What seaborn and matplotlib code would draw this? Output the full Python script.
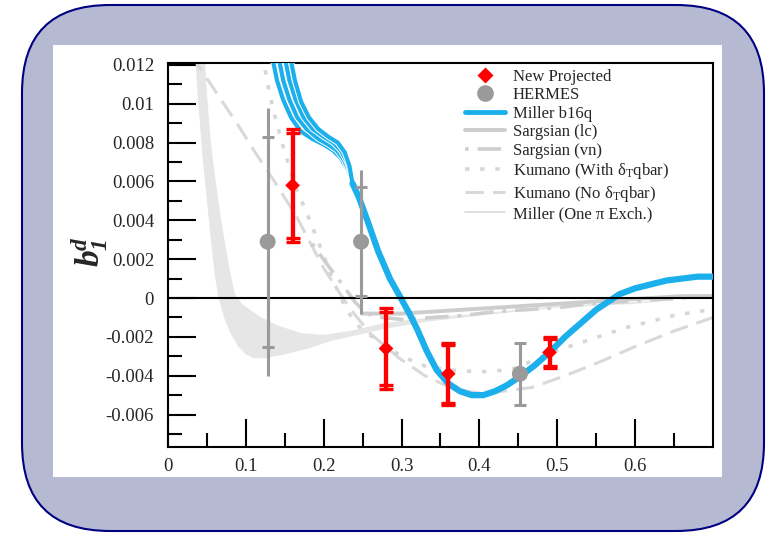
import numpy as np
import pandas as pd
import matplotlib
matplotlib.use("Agg")
import matplotlib.pyplot as plt
import matplotlib.patheffects as pe
import seaborn as sns
from matplotlib.patches import FancyBboxPatch, Rectangle
from matplotlib.transforms import IdentityTransform
from matplotlib.lines import Line2D
from matplotlib.ticker import FixedLocator, FixedFormatter

# ---------------- data ----------------
# projected measurement
red_x = [0.160, 0.280, 0.360, 0.490]
red_y = [0.0058, -0.0026, -0.0039, -0.0028]
red_err_tot = [0.0029, 0.0021, 0.0016, 0.0008]
red_err_stat = [0.0027, 0.0019, 0.0015, 0.0007]

# HERMES points
herm_x = [0.128, 0.248, 0.452]
herm_y = [0.0029, 0.0029, -0.0039]
herm_err_tot = [0.0069, 0.0037, 0.0016]
herm_err_stat = [0.0054, 0.0028, 0.0016]

# Miller b16q: four branches at small x that join into one curve
b16q_a_x = [0.134, 0.140, 0.148, 0.158, 0.170, 0.185, 0.200, 0.212, 0.222, 0.231, 0.237]
b16q_a_y = [0.0124, 0.0112, 0.0102, 0.0093, 0.0086, 0.0082, 0.0079, 0.0076, 0.0072, 0.0066, 0.0059]
b16q_b_x = [0.142, 0.148, 0.156, 0.166, 0.178, 0.193, 0.206, 0.217, 0.226, 0.233, 0.237]
b16q_b_y = [0.0124, 0.0112, 0.0102, 0.0093, 0.0087, 0.0082, 0.0079, 0.0076, 0.0071, 0.0065, 0.0059]
b16q_c_x = [0.150, 0.156, 0.164, 0.174, 0.186, 0.200, 0.212, 0.222, 0.230, 0.235, 0.237]
b16q_c_y = [0.0124, 0.0112, 0.0102, 0.0093, 0.0087, 0.0083, 0.0080, 0.0076, 0.0070, 0.0064, 0.0059]
b16q_d_x = [0.157, 0.163, 0.171, 0.181, 0.193, 0.206, 0.218, 0.227, 0.233, 0.237]
b16q_d_y = [0.0124, 0.0112, 0.0101, 0.0093, 0.0087, 0.0083, 0.0080, 0.0075, 0.0068, 0.0059]
b16q_tail_x = [0.237, 0.245, 0.256, 0.270, 0.285, 0.299, 0.310, 0.320, 0.332, 0.345,
               0.360, 0.375, 0.390, 0.405, 0.420, 0.435, 0.450, 0.470, 0.490, 0.510,
               0.530, 0.550, 0.565, 0.580, 0.600, 0.620, 0.640, 0.660, 0.680, 0.700]
b16q_tail_y = [0.0059, 0.0052, 0.0040, 0.0024, 0.0010, 0.0000, -0.0008, -0.0016, -0.0027, -0.0037,
               -0.0044, -0.0048, -0.0050, -0.0050, -0.0048, -0.0045, -0.0041, -0.0035, -0.0028, -0.0020,
               -0.0013, -0.0006, -0.0002, 0.0002, 0.0005, 0.0007, 0.0009, 0.0010, 0.0011, 0.0011]

# Sargsian
sarg_lc_x = [0.249, 0.270, 0.300, 0.340, 0.380, 0.420, 0.460, 0.500, 0.540, 0.580, 0.620, 0.660, 0.700]
sarg_lc_y = [-0.0008, -0.0008, -0.0008, -0.0007, -0.0006, -0.0005, -0.0004, -0.0003, -0.0002, -0.0001, 0.0000, 0.0001, 0.0001]
sarg_vn_x = [0.185, 0.205, 0.224, 0.240, 0.255, 0.275, 0.300, 0.340, 0.380, 0.420, 0.460, 0.500,
             0.540, 0.580, 0.620, 0.660, 0.700]
sarg_vn_y = [0.0028, 0.0017, 0.0007, -0.0002, -0.0008, -0.0010, -0.0011, -0.0010, -0.0009, -0.0007,
             -0.0006, -0.0005, -0.0003, -0.0002, -0.0001, 0.0000, 0.0001]

# Kumano
kum_with_x = [0.122, 0.127, 0.135, 0.150, 0.165, 0.178, 0.195, 0.212, 0.229, 0.246, 0.272, 0.300,
              0.330, 0.360, 0.400, 0.440, 0.470, 0.500, 0.530, 0.560, 0.590, 0.620, 0.650, 0.680, 0.700]
kum_with_y = [0.0125, 0.0112, 0.0097, 0.0075, 0.0056, 0.0044, 0.0027, 0.0009, -0.0006, -0.0015, -0.0023,
              -0.0030, -0.0035, -0.0037, -0.0038, -0.0037, -0.0032, -0.0027, -0.0023, -0.0019, -0.0015,
              -0.0012, -0.0009, -0.0007, -0.0006]
kum_no_x = [0.030, 0.060, 0.090, 0.112, 0.140, 0.165, 0.182, 0.199, 0.215, 0.233, 0.259, 0.297,
            0.330, 0.362, 0.385, 0.404, 0.430, 0.468, 0.510, 0.554, 0.600, 0.650, 0.700]
kum_no_y = [0.0125, 0.0107, 0.0089, 0.0075, 0.0058, 0.0042, 0.0029, 0.0016, 0.0006, -0.0005, -0.0018,
            -0.0031, -0.0040, -0.0046, -0.0048, -0.0049, -0.0048, -0.0046, -0.0040, -0.0033, -0.0025,
            -0.0017, -0.0010]

# Miller one-pion exchange band (upper and lower edges)
ope_hi_x = [0.047, 0.050, 0.054, 0.058, 0.064, 0.070, 0.078, 0.086, 0.095, 0.105, 0.120, 0.140,
            0.170, 0.200, 0.233, 0.276, 0.336, 0.400, 0.450, 0.500, 0.550, 0.600, 0.650, 0.700]
ope_hi_y = [0.0125, 0.0105, 0.0085, 0.0070, 0.0052, 0.0036, 0.0017, 0.0002, -0.0003, -0.0006,
            -0.0010, -0.0014, -0.0018, -0.0019, -0.0017, -0.0013, -0.0010, -0.0008, -0.0006,
            -0.0004, -0.0003, -0.0002, -0.0001, 0.0000]
ope_lo_x = [0.035, 0.038, 0.041, 0.044, 0.050, 0.055, 0.060, 0.065, 0.072, 0.080, 0.090, 0.100,
            0.110, 0.125, 0.150, 0.180, 0.210, 0.233, 0.276, 0.336, 0.400, 0.450, 0.500, 0.550,
            0.600, 0.650, 0.700]
ope_lo_y = [0.0125, 0.0105, 0.0090, 0.0074, 0.0050, 0.0030, 0.0012, 0.0000, -0.0010, -0.0018,
            -0.0025, -0.0029, -0.0031, -0.0031, -0.0029, -0.0026, -0.0022, -0.0020, -0.0016,
            -0.0012, -0.0009, -0.0007, -0.0005, -0.0004, -0.0003, -0.0001, 0.0000]

# axis ticks
x_major = [0.0, 0.1, 0.2, 0.3, 0.4, 0.5, 0.6]
x_labels = ["0", "0.1", "0.2", "0.3", "0.4", "0.5", "0.6"]
x_minor = [0.05, 0.15, 0.25, 0.35, 0.45, 0.55, 0.65]
y_major = [-0.006, -0.004, -0.002, 0.0, 0.002, 0.004, 0.006, 0.008, 0.010, 0.012]
y_labels = ["-0.006", "-0.004", "-0.002", "0", "0.002", "0.004", "0.006", "0.008", "0.01", "0.012"]
y_minor = [-0.007, -0.005, -0.003, -0.001, 0.001, 0.003, 0.005, 0.007, 0.009, 0.011]

legend_labels = ["New Projected", "HERMES", "Miller b16q", "Sargsian (lc)", "Sargsian (vn)",
                 r"Kumano (With δ$_\mathrm{T}$qbar)", r"Kumano (No δ$_\mathrm{T}$qbar)",
                 "Miller (One π Exch.)"]

# ---------------- style ----------------
sns.set_theme(style="white")
plt.rcParams["font.family"] = ["Liberation Serif", "DejaVu Serif"]
plt.rcParams["mathtext.fontset"] = "custom"
plt.rcParams["mathtext.rm"] = "Liberation Serif"
plt.rcParams["mathtext.it"] = "Liberation Serif:italic"
plt.rcParams["mathtext.bf"] = "Liberation Serif:bold"
plt.rcParams["mathtext.bfit"] = "Liberation Serif:italic:bold"

BLUE = "#1bafec"
RED = "#ff0000"
GRAY = "#9a9a9a"
BAND = "#e6e6e6"

fig = plt.figure(figsize=(7.69, 5.33), dpi=100)
fig.patch.set_facecolor("white")

# rounded slate frame with white panel
outer = FancyBboxPatch((22, 2), 742, 526, boxstyle="round,pad=0,rounding_size=88",
                       transform=IdentityTransform(), facecolor="#b5bad2",
                       edgecolor="#000080", linewidth=1.5, zorder=-3)
fig.add_artist(outer)
panel = Rectangle((53, 56), 669, 432, transform=IdentityTransform(),
                  facecolor="white", edgecolor="none", zorder=-2)
fig.add_artist(panel)

ax = fig.add_axes([168 / 769, 86 / 533, 545 / 769, 384 / 533])
ax.set_facecolor("white")

# one-pion exchange band
band_x = ope_lo_x + ope_hi_x[::-1]
band_y = ope_lo_y + ope_hi_y[::-1]
ax.fill(band_x, band_y, color=BAND, lw=0, zorder=1)

# model curves
line_kw = dict(ax=ax, estimator=None, sort=False, legend=False)
sns.lineplot(x=np.array(kum_no_x), y=np.array(kum_no_y), color="#d9d9d9", lw=2.2,
             linestyle=(0, (6, 3)), zorder=2, **line_kw)
sns.lineplot(x=np.array(kum_with_x), y=np.array(kum_with_y), color="#d6d6d6", lw=2.6,
             linestyle=(0, (1.2, 3.0)), zorder=2, **line_kw)
sns.lineplot(x=np.array(sarg_vn_x), y=np.array(sarg_vn_y), color="#cfcfcf", lw=2.6,
             linestyle=(0, (1.0, 2.5, 6.5, 2.5)), zorder=2, **line_kw)
sns.lineplot(x=np.array(sarg_lc_x), y=np.array(sarg_lc_y), color="#cdcdcd", lw=2.8,
             zorder=2, **line_kw)

branch_fx = [pe.Stroke(linewidth=4.4, foreground="white"), pe.Normal()]
for bx, by in [(b16q_a_x, b16q_a_y), (b16q_b_x, b16q_b_y),
               (b16q_c_x, b16q_c_y), (b16q_d_x, b16q_d_y)]:
    sns.lineplot(x=np.array(bx), y=np.array(by), color=BLUE, lw=3.0, zorder=3,
                 path_effects=branch_fx, solid_capstyle="butt", **line_kw)
sns.lineplot(x=np.array(b16q_tail_x), y=np.array(b16q_tail_y), color=BLUE, lw=4.5,
             zorder=3, solid_capstyle="round", **line_kw)

ax.axhline(0, color="black", lw=1.5, zorder=4)

# HERMES: total error (no caps) and statistical error (capped)
ax.errorbar(herm_x, herm_y, yerr=herm_err_tot, fmt="none", ecolor=GRAY,
            elinewidth=2.2, capsize=0, zorder=5)
ax.errorbar(herm_x, herm_y, yerr=herm_err_stat, fmt="none", ecolor=GRAY,
            elinewidth=2.2, capsize=4.5, capthick=2.2, zorder=5)
sns.scatterplot(x=np.array(herm_x), y=np.array(herm_y), ax=ax, marker="o", s=132,
                color=GRAY, edgecolor="none", zorder=6, legend=False)

# projected points
ax.errorbar(red_x, red_y, yerr=red_err_tot, fmt="none", ecolor=RED,
            elinewidth=3.0, capsize=5, capthick=2.4, zorder=7)
ax.errorbar(red_x, red_y, yerr=red_err_stat, fmt="none", ecolor=RED,
            elinewidth=3.0, capsize=5, capthick=2.4, zorder=7)
sns.scatterplot(x=np.array(red_x), y=np.array(red_y), ax=ax, marker="D", s=56,
                color=RED, edgecolor="none", zorder=8, legend=False)

# axes
ax.set_xlim(0, 0.7)
ax.set_ylim(-0.00767, 0.0121)
ax.xaxis.set_major_locator(FixedLocator(x_major))
ax.xaxis.set_major_formatter(FixedFormatter(x_labels))
ax.xaxis.set_minor_locator(FixedLocator(x_minor))
ax.yaxis.set_major_locator(FixedLocator(y_major))
ax.yaxis.set_major_formatter(FixedFormatter(y_labels))
ax.yaxis.set_minor_locator(FixedLocator(y_minor))
ax.tick_params(which="both", direction="in", bottom=True, left=True, top=False,
               right=False, color="black", width=1.5)
ax.tick_params(which="major", length=20)
ax.tick_params(which="minor", length=10)
ax.tick_params(axis="x", which="major", labelsize=13.5, pad=8)
ax.tick_params(axis="y", which="major", labelsize=13.5, pad=10)
for sp in ax.spines.values():
    sp.set_color("black")
    sp.set_linewidth(1.5)
ax.set_xlabel("")
ax.set_ylabel("")

fig.text(90 / 769, 1 - 252 / 533, r"$\mathbfit{b}_{\mathbfit{1}}^{\mathbfit{d}}$",
         rotation=90, fontsize=24, ha="center", va="center")

# legend
handles = [
    Line2D([], [], ls="none", marker="D", ms=8.5, color=RED, mec="none"),
    Line2D([], [], ls="none", marker="o", ms=12, color=GRAY, mec="none"),
    Line2D([], [], color=BLUE, lw=3.5),
    Line2D([], [], color="#cdcdcd", lw=2.8),
    Line2D([], [], color="#cfcfcf", lw=2.6, ls=(0, (1.0, 2.5, 6.5, 2.5))),
    Line2D([], [], color="#d6d6d6", lw=2.6, ls=(0, (1.2, 3.0))),
    Line2D([], [], color="#d9d9d9", lw=2.2, ls=(0, (6, 3))),
    Line2D([], [], color="#d9d9d9", lw=1.2),
]
ax.legend(handles, legend_labels, loc="upper left", bbox_to_anchor=(0.545, 0.985),
          frameon=False, fontsize=12, handlelength=2.4, handletextpad=0.45,
          labelspacing=0.15, borderpad=0, borderaxespad=0)

fig.savefig("out.png", dpi=100)
